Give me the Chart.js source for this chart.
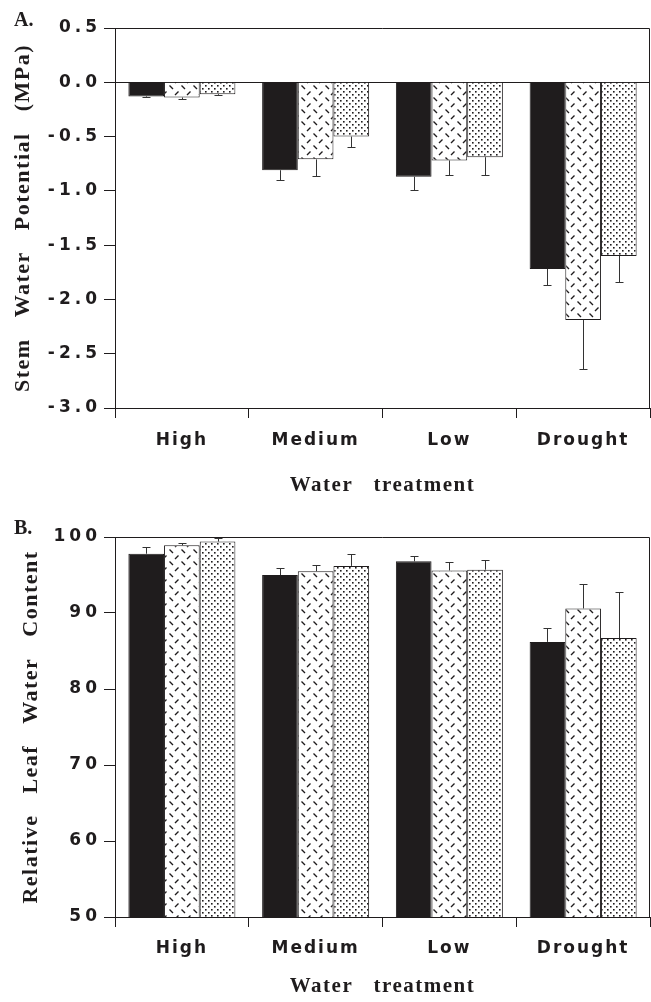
<!DOCTYPE html>
<html>
<head>
<meta charset="utf-8">
<script src="https://cdn.jsdelivr.net/npm/chart.js@4.4.1/dist/chart.umd.min.js"></script>
<style>
  html, body { margin: 0; padding: 0; background: #fff; }
  #wrap { position: relative; width: 651px; height: 1002px; overflow: hidden; }
  canvas { position: absolute; left: 0; }
</style>
</head>
<body>
<div id="wrap">
  <canvas id="chartA" width="651" height="500" style="top:0"></canvas>
  <canvas id="chartB" width="651" height="502" style="top:500px"></canvas>
</div>
<script>
// 数据
const treatments = ['High', 'Medium', 'Low', 'Drought']

// A. stem water potential (MPa)
const stemTicks = [0.5, 0.0, -0.5, -1.0, -1.5, -2.0, -2.5, -3.0]
const stemSolid = [-0.13, -0.81, -0.87, -1.72]
const stemHatch = [-0.14, -0.71, -0.72, -2.19]
const stemDots = [-0.11, -0.50, -0.69, -1.60]
const stemSolidErr = [0.01, 0.09, 0.12, 0.15]
const stemHatchErr = [0.01, 0.15, 0.13, 0.45]
const stemDotsErr = [0.01, 0.10, 0.16, 0.24]

// B. relative leaf water content
const rwcTicks = [100, 90, 80, 70, 60, 50]
const rwcSolid = [97.8, 95.0, 96.8, 86.2]
const rwcHatch = [98.9, 95.5, 95.6, 90.6]
const rwcDots = [99.4, 96.2, 95.7, 86.7]
const rwcSolidErr = [0.9, 0.9, 0.7, 1.8]
const rwcHatchErr = [0.3, 0.8, 1.1, 3.2]
const rwcDotsErr = [0.45, 1.5, 1.3, 6.0]

const ink = '#1f1c1d'
const tickFont = { family: 'DejaVu Sans', weight: 'bold', size: 17 }
const xTitleFont = { family: 'Liberation Serif', weight: 'bold', size: 21 }
const yTitleFont = { family: 'Liberation Serif', weight: 'bold', size: 22 }

// 图案填充
function hatchPattern(ctx) {
  const c = document.createElement('canvas')
  c.width = 12
  c.height = 12
  const g = c.getContext('2d')
  g.fillStyle = '#fff'
  g.fillRect(0, 0, 12, 12)
  g.strokeStyle = ink
  g.lineWidth = 1.4
  g.beginPath()
  g.moveTo(1.5, 1.5); g.lineTo(5, 5)
  g.moveTo(7, 11); g.lineTo(10.5, 7.5)
  g.stroke()
  return ctx.createPattern(c, 'repeat')
}

function dotPattern(ctx) {
  const c = document.createElement('canvas')
  c.width = 6
  c.height = 6
  const g = c.getContext('2d')
  g.fillStyle = '#fff'
  g.fillRect(0, 0, 6, 6)
  g.fillStyle = ink
  g.fillRect(1, 1, 1.6, 1.6)
  g.fillRect(4, 4, 1.6, 1.6)
  return ctx.createPattern(c, 'repeat')
}

// 字距：只给刻度标签和轴标题加
const spacing = {
  id: 'spacing',
  beforeDraw(chart, args, opts) {
    Object.values(chart.scales).forEach(scale => {
      if (scale._spaced) return
      const drawLabels = scale.drawLabels
      const drawTitle = scale.drawTitle
      const px = scale.axis === 'x' ? opts.x : opts.y
      scale.drawLabels = function (area) {
        this.ctx.save()
        this.ctx.letterSpacing = px + 'px'
        drawLabels.call(this, area)
        this.ctx.restore()
      }
      scale.drawTitle = function () {
        this.ctx.save()
        this.ctx.letterSpacing = opts.title + 'px'
        drawTitle.call(this)
        this.ctx.restore()
      }
      scale._spaced = true
    })
  }
}

// 误差线 + 外框 + 面板字母
const extras = {
  id: 'extras',
  afterDatasetsDraw(chart) {
    const ctx = chart.ctx
    const y = chart.scales.y
    ctx.save()
    ctx.strokeStyle = '#333'
    ctx.lineWidth = 1
    chart.data.datasets.forEach((ds, i) => {
      chart.getDatasetMeta(i).data.forEach((bar, j) => {
        const v = ds.data[j]
        const e = ds.errors[j]
        const end = v < 0 ? v - e : v + e
        const x = Math.round(bar.x) + 0.5
        const y1 = Math.round(y.getPixelForValue(end)) + 0.5
        ctx.beginPath()
        ctx.moveTo(x, bar.y)
        ctx.lineTo(x, y1)
        ctx.moveTo(x - 4, y1)
        ctx.lineTo(x + 4, y1)
        ctx.stroke()
      })
    })
    ctx.restore()
  },
  afterDraw(chart, args, opts) {
    const ctx = chart.ctx
    const a = chart.chartArea
    ctx.save()
    ctx.strokeStyle = ink
    ctx.lineWidth = 1
    ctx.beginPath()
    ctx.moveTo(a.left, Math.round(a.top) + 0.5)
    ctx.lineTo(Math.round(a.right) - 0.5, Math.round(a.top) + 0.5)
    ctx.lineTo(Math.round(a.right) - 0.5, a.bottom)
    ctx.stroke()
    ctx.fillStyle = ink
    ctx.font = 'bold 20px "Liberation Serif"'
    ctx.fillText(opts.letter, 14, opts.letterY)
    ctx.restore()
  }
}

function makeDatasets(ctx, solid, hatch, dots, solidErr, hatchErr, dotsErr) {
  const common = { borderColor: ink, borderWidth: 1, categoryPercentage: 0.8, barPercentage: 1.0 }
  return [
    { ...common, data: solid, errors: solidErr, backgroundColor: ink },
    { ...common, data: hatch, errors: hatchErr, backgroundColor: hatchPattern(ctx) },
    { ...common, data: dots, errors: dotsErr, backgroundColor: dotPattern(ctx) }
  ]
}

function makeOptions(cfg) {
  return {
    responsive: false,
    animation: false,
    events: [],
    layout: { padding: { top: cfg.padTop, right: 1, left: 0, bottom: 0 } },
    plugins: {
      legend: { display: false },
      tooltip: { enabled: false },
      spacing: { x: 2, y: 4, title: 1.5 },
      extras: { letter: cfg.letter, letterY: cfg.letterY }
    },
    scales: {
      x: {
        offset: true,
        grid: { offset: true, drawOnChartArea: false, tickLength: 10, tickColor: ink },
        border: { color: ink, width: 1 },
        ticks: { color: ink, font: tickFont, padding: cfg.xPad },
        title: {
          display: true, text: 'Water   treatment', color: ink, font: xTitleFont,
          padding: { top: 0, bottom: cfg.xTitlePad }
        },
        afterFit: s => { s.height = cfg.xHeight }
      },
      y: {
        min: cfg.ticks[cfg.ticks.length - 1],
        max: cfg.ticks[0],
        afterBuildTicks: s => { s.ticks = cfg.ticks.map(v => ({ value: v })) },
        grid: {
          color: c => (cfg.zeroLine && c.tick && c.tick.value === 0) ? ink : 'rgba(0,0,0,0)',
          tickColor: ink,
          tickLength: 11
        },
        border: { color: ink, width: 1 },
        ticks: { color: ink, font: tickFont, padding: 3, callback: cfg.label },
        title: {
          display: true, text: cfg.yTitle, color: ink, font: yTitleFont,
          padding: { top: cfg.yTitlePad, bottom: 0 }
        },
        afterFit: s => { s.width = 115 }
      }
    }
  }
}

const ctxA = document.getElementById('chartA').getContext('2d')
new Chart(ctxA, {
  type: 'bar',
  data: {
    labels: treatments,
    datasets: makeDatasets(ctxA, stemSolid, stemHatch, stemDots, stemSolidErr, stemHatchErr, stemDotsErr)
  },
  options: makeOptions({
    padTop: 28, xHeight: 92, xPad: 12, xTitlePad: 2,
    ticks: stemTicks, zeroLine: true, label: v => v.toFixed(1),
    yTitle: 'Stem   Water   Potential   (MPa)', yTitlePad: 10,
    letter: 'A.', letterY: 26
  }),
  plugins: [spacing, extras]
})

const ctxB = document.getElementById('chartB').getContext('2d')
new Chart(ctxB, {
  type: 'bar',
  data: {
    labels: treatments,
    datasets: makeDatasets(ctxB, rwcSolid, rwcHatch, rwcDots, rwcSolidErr, rwcHatchErr, rwcDotsErr)
  },
  options: makeOptions({
    padTop: 37, xHeight: 85, xPad: 11, xTitlePad: 3,
    ticks: rwcTicks, zeroLine: false, label: v => String(v),
    yTitle: 'Relative   Leaf   Water   Content', yTitlePad: 18,
    letter: 'B.', letterY: 34
  }),
  plugins: [spacing, extras]
})
</script>
</body>
</html>
